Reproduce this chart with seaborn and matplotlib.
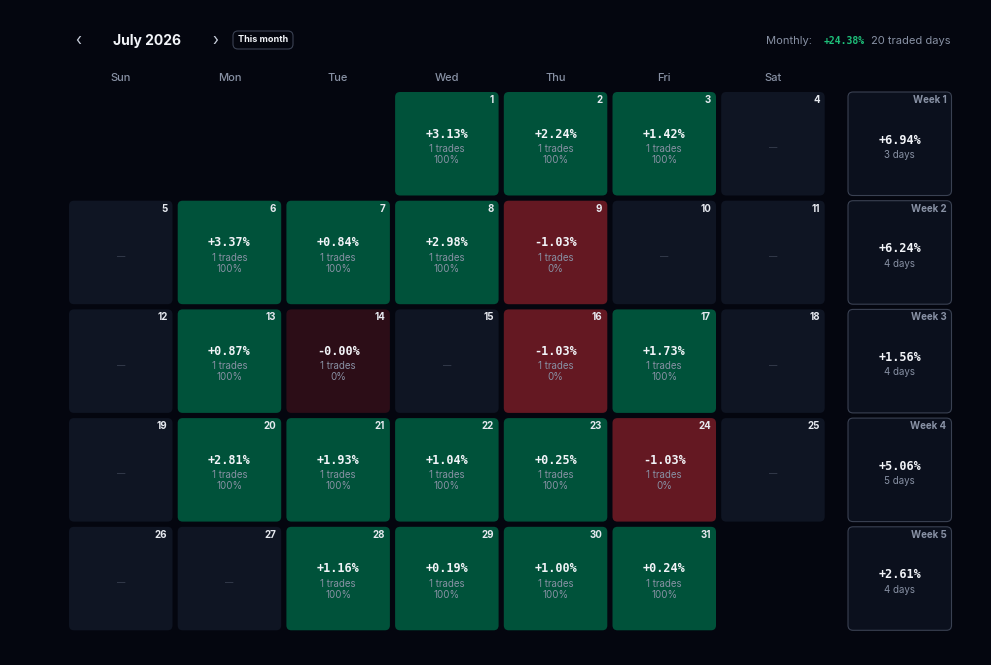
import numpy as np
import matplotlib
matplotlib.use("Agg")
import matplotlib.pyplot as plt
import seaborn as sns
from matplotlib.patches import FancyBboxPatch

# July 2026 daily results (None = no trade)
days = list(range(1, 32))
pnl = [3.13, 2.24, 1.42, None, None, 3.37, 0.84, 2.98, -1.03, None,
       None, None, 0.87, -0.0, None, -1.03, 1.73, None, None, 2.81,
       1.93, 1.04, 0.25, -1.03, None, None, None, 1.16, 0.19, 1.00,
       0.24]
trades = [1 if v is not None else 0 for v in pnl]
win_rate = [100 if (v is not None and v > 0) else 0 for v in pnl]

week_labels = ["Week 1", "Week 2", "Week 3", "Week 4", "Week 5"]
week_pnl = [6.94, 6.24, 1.56, 5.06, 2.61]
week_days = [3, 4, 4, 5, 4]

weekdays = ["Sun", "Mon", "Tue", "Wed", "Thu", "Fri", "Sat"]
first_weekday = 3  # July 1 2026 is a Wednesday
monthly = 24.38
traded_days = 20

BG = "#04060f"
GREEN = "#00523a"
RED = "#641822"
DARKRED = "#2c0d17"
EMPTY = "#0f1523"
WEEKBOX = "#0b101d"
GREY = "#8891a4"
WHITE = "#f2f4f8"

sns.set_theme(style="dark")
plt.rcParams["font.family"] = ["Inter", "DejaVu Sans"]

fig = plt.figure(figsize=(9.91, 6.65), dpi=100, facecolor=BG)
ax = fig.add_axes([0, 0, 1, 1])
ax.set_facecolor(BG)
unit = 108.7
ax.set_xlim(-69 / unit, (991 - 69) / unit)
ax.set_ylim((665 - 92) / unit, -92 / unit)
ax.axis("off")

cw = 103.5 / unit
r = 5 / unit
px = 1 / unit


def box(x, y, fc, ec="none", lw=0):
    p = FancyBboxPatch((x, y), cw, cw, boxstyle=f"round,pad=0,rounding_size={r}",
                       fc=fc, ec=ec, lw=lw)
    ax.add_patch(p)


for i, d in enumerate(days):
    slot = first_weekday + i
    col, row = slot % 7, slot // 7
    v = pnl[i]
    if v is None:
        fc = EMPTY
    elif v > 0:
        fc = GREEN
    elif np.signbit(v) and v == 0:
        fc = DARKRED
    else:
        fc = RED
    box(col, row, fc)
    ax.text(col + cw - 5 * px, row + 8 * px, str(d), ha="right", va="center",
            color="#e6e9ef", fontsize=7, fontweight="bold")
    cx = col + cw / 2
    if v is None:
        ax.text(cx, row + 56 * px, "\u2014", ha="center", va="center",
                color="#3b4354", fontsize=6)
    else:
        ax.text(cx, row + 42 * px, f"{v:+.2f}%", ha="center", va="center",
                color=WHITE, fontsize=8.5, fontweight="bold",
                family="DejaVu Sans Mono")
        ax.text(cx, row + 57 * px, f"{trades[i]} trades", ha="center",
                va="center", color=GREY, fontsize=7)
        ax.text(cx, row + 68 * px, f"{win_rate[i]}%", ha="center",
                va="center", color=GREY, fontsize=7)

wx = (848 - 69) / unit
for k in range(len(week_labels)):
    box(wx, k, WEEKBOX, ec="#3a4152", lw=0.8)
    ax.text(wx + cw - 5 * px, k + 8 * px, week_labels[k], ha="right",
            va="center", color=GREY, fontsize=7, fontweight="bold")
    ax.text(wx + cw / 2, k + 48 * px, f"{week_pnl[k]:+.2f}%", ha="center",
            va="center", color=WHITE, fontsize=8.5, fontweight="bold",
            family="DejaVu Sans Mono")
    ax.text(wx + cw / 2, k + 63 * px, f"{week_days[k]} days", ha="center",
            va="center", color=GREY, fontsize=7)

for j, name in enumerate(weekdays):
    ax.text(j + cw / 2, -14 * px, name, ha="center", va="center",
            color=GREY, fontsize=8, fontweight="medium")

# header
hy = -51 * px
ax.text((78 - 69) * px, hy, "\u2039", ha="center", va="center",
        color="#c9cfdb", fontsize=11)
ax.text((147 - 69) * px, hy, "July 2026", ha="center", va="center",
        color=WHITE, fontsize=10, fontweight="bold")
ax.text((215 - 69) * px, hy, "\u203a", ha="center", va="center",
        color="#c9cfdb", fontsize=11)
btn = FancyBboxPatch(((233 - 69) * px, (31 - 92) * px), 60 * px, 18 * px,
                     boxstyle=f"round,pad=0,rounding_size={r}",
                     fc=BG, ec="#3a4152", lw=0.8)
ax.add_patch(btn)
ax.text((263 - 69) * px, (40 - 92) * px, "This month", ha="center",
        va="center", color=WHITE, fontsize=6.5, fontweight="bold")

ax.text((951 - 69) * px, hy, f"{traded_days} traded days", ha="right",
        va="center", color=GREY, fontsize=8)
ax.text((865 - 69) * px, hy, f"{monthly:+.2f}%", ha="right", va="center",
        color="#1ec07a", fontsize=7, fontweight="bold",
        family="DejaVu Sans Mono")
ax.text((812 - 69) * px, hy, "Monthly:", ha="right", va="center",
        color=GREY, fontsize=8)

fig.savefig("out.png", dpi=100, facecolor=BG)
